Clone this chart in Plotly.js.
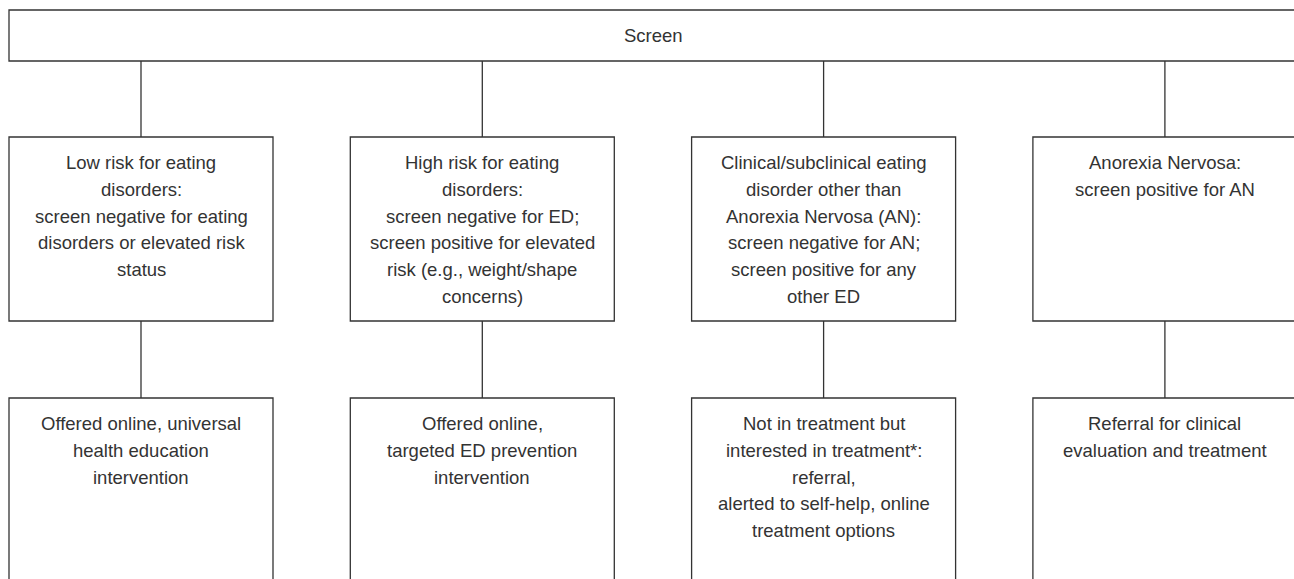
<!DOCTYPE html>
<html>
<head>
<meta charset="utf-8">
<script src="https://cdn.plot.ly/plotly-3.0.1.min.js"></script>
<style>html,body{margin:0;padding:0;background:#fff;}#chart{width:1294px;height:579px;}</style>
</head>
<body>
<div id="chart"></div>
<script>
// ---- content ----
const rootLabel = "Screen";
const riskLabels = [
  ["Low risk for eating", "disorders:", "screen negative for eating", "disorders or elevated risk", "status"],
  ["High risk for eating", "disorders:", "screen negative for ED;", "screen positive for elevated", "risk (e.g., weight/shape", "concerns)"],
  ["Clinical/subclinical eating", "disorder other than", "Anorexia Nervosa (AN):", "screen negative for AN;", "screen positive for any", "other ED"],
  ["Anorexia Nervosa:", "screen positive for AN"]
];
const actionLabels = [
  ["Offered online, universal", "health education", "intervention"],
  ["Offered online,", "targeted ED prevention", "intervention"],
  ["Not in treatment but", "interested in treatment*:", "referral,", "alerted to self-help, online", "treatment options"],
  ["Referral for clinical", "evaluation and treatment"]
];

// ---- layout geometry ----
const W = 1294, H = 579;
const FONT = {family: "Liberation Sans, Arial, Helvetica, sans-serif", size: 18.5, color: "#333333"};
const LINE = {color: "#333333", width: 1.3};
const boxW = 264, colStep = 341.3, left0 = 9;
const root = {x0: 9, x1: 1297, y0: 10, y1: 61};
const row1 = {y0: 137, y1: 321};
const row2 = {y0: 398, y1: 610};
const firstBaseline = 32, lineGap = 26.7, midOffset = 6.4;

const shapes = [];
const annotations = [];

function rect(x0, x1, y0, y1) {
  shapes.push({type: "rect", xref: "x", yref: "y", x0, x1, y0, y1, line: LINE, fillcolor: "rgba(0,0,0,0)"});
}
function seg(x, y0, y1) {
  shapes.push({type: "line", xref: "x", yref: "y", x0: x, x1: x, y0, y1, line: LINE});
}
function textLines(lines, cx, top) {
  lines.forEach((t, i) => {
    annotations.push({
      xref: "x", yref: "y", x: cx, y: top + firstBaseline + i * lineGap - midOffset,
      text: t, showarrow: false, xanchor: "center", yanchor: "middle", font: FONT
    });
  });
}

rect(root.x0, root.x1, root.y0, root.y1);
annotations.push({xref: "x", yref: "y", x: (root.x0 + root.x1) / 2, y: (root.y0 + root.y1) / 2,
  text: rootLabel, showarrow: false, xanchor: "center", yanchor: "middle", font: FONT});

riskLabels.forEach((lines, i) => {
  const x0 = left0 + i * colStep, cx = x0 + boxW / 2;
  seg(cx, root.y1, row1.y0);
  rect(x0, x0 + boxW, row1.y0, row1.y1);
  textLines(lines, cx, row1.y0);
  seg(cx, row1.y1, row2.y0);
  rect(x0, x0 + boxW, row2.y0, row2.y1);
  textLines(actionLabels[i], cx, row2.y0);
});

const layout = {
  width: W, height: H,
  margin: {l: 0, r: 0, t: 0, b: 0, pad: 0},
  paper_bgcolor: "#ffffff", plot_bgcolor: "#ffffff",
  showlegend: false,
  xaxis: {range: [0, W], visible: false, fixedrange: true},
  yaxis: {range: [H, 0], visible: false, fixedrange: true},
  shapes, annotations
};

Plotly.newPlot("chart", [{x: [], y: [], type: "scatter", mode: "markers", hoverinfo: "skip"}], layout, {staticPlot: true, displayModeBar: false});
</script>
</body>
</html>
